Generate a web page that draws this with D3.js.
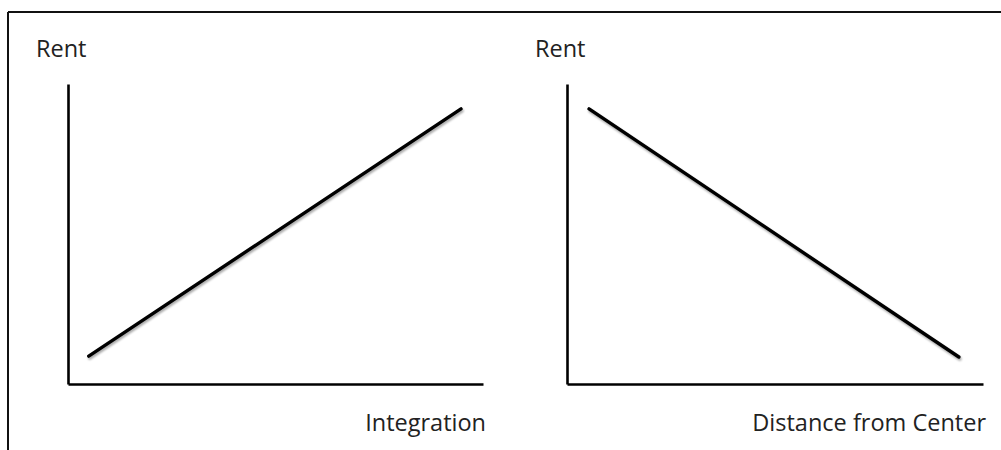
<!DOCTYPE html>
<html>
<head>
<meta charset="utf-8">
<script src="https://cdn.jsdelivr.net/npm/d3@7"></script>
<style>
  body { margin: 0; background: #fff; }
  text { font-family: "Open Sans", sans-serif; fill: #222; }
</style>
</head>
<body>
<div id="chart"></div>
<script>
// panel data
var yTitles = ["Rent", "Rent"];
var xTitles = ["Integration", "Distance from Center"];
// line end points (0-10 scale on both axes)
var lineX = [[0.5, 9.47], [0.53, 9.42]];
var lineY = [[0.93, 9.17], [9.17, 0.9]];

var width = 1001, height = 450;

var svg = d3.select("#chart").append("svg")
    .attr("width", width)
    .attr("height", height);

// soft shadow for the lines
var defs = svg.append("defs");
var f = defs.append("filter").attr("id", "shadow")
    .attr("x", "-10%").attr("y", "-10%").attr("width", "120%").attr("height", "120%");
f.append("feGaussianBlur").attr("in", "SourceAlpha").attr("stdDeviation", 1.2).attr("result", "blur");
f.append("feOffset").attr("in", "blur").attr("dx", 1).attr("dy", 1.5).attr("result", "off");
f.append("feComponentTransfer").attr("in", "off").attr("result", "soft")
  .append("feFuncA").attr("type", "linear").attr("slope", 0.35);
var merge = f.append("feMerge");
merge.append("feMergeNode").attr("in", "soft");
merge.append("feMergeNode").attr("in", "SourceGraphic");

// outer frame (top and left only)
svg.append("line").attr("x1", 8).attr("y1", 12).attr("x2", width).attr("y2", 12)
    .attr("stroke", "#111").attr("stroke-width", 2);
svg.append("line").attr("x1", 8).attr("y1", 12).attr("x2", 8).attr("y2", height)
    .attr("stroke", "#111").attr("stroke-width", 2);

var panels = [
  { left: 68, right: 483 },
  { left: 567, right: 983 }
];
var plotTop = 84, plotBottom = 384;

panels.forEach(function(p, i) {
  var x = d3.scaleLinear().domain([0, 10]).range([p.left, p.right]);
  var y = d3.scaleLinear().domain([0, 10]).range([plotBottom, plotTop]);

  var g = svg.append("g");

  g.append("g")
      .attr("transform", "translate(0," + plotBottom + ")")
      .call(d3.axisBottom(x).ticks(0).tickSizeOuter(0));
  g.append("g")
      .attr("transform", "translate(" + p.left + ",0)")
      .call(d3.axisLeft(y).ticks(0).tickSizeOuter(0));
  g.selectAll(".domain").attr("stroke", "#000").attr("stroke-width", 2.6);

  var pts = lineX[i].map(function(v, k) { return [v, lineY[i][k]]; });
  g.append("path")
      .datum(pts)
      .attr("fill", "none")
      .attr("stroke", "#000")
      .attr("stroke-width", 3.4)
      .attr("stroke-linecap", "round")
      .attr("filter", "url(#shadow)")
      .attr("d", d3.line().x(function(d) { return x(d[0]); }).y(function(d) { return y(d[1]); }));

  g.append("text")
      .attr("x", p.left - 32)
      .attr("y", 57)
      .attr("font-size", 23.5)
      .text(yTitles[i]);

  g.append("text")
      .attr("x", p.right + 3)
      .attr("y", 431)
      .attr("text-anchor", "end")
      .attr("font-size", 23.5)
      .text(xTitles[i]);
});
</script>
</body>
</html>
